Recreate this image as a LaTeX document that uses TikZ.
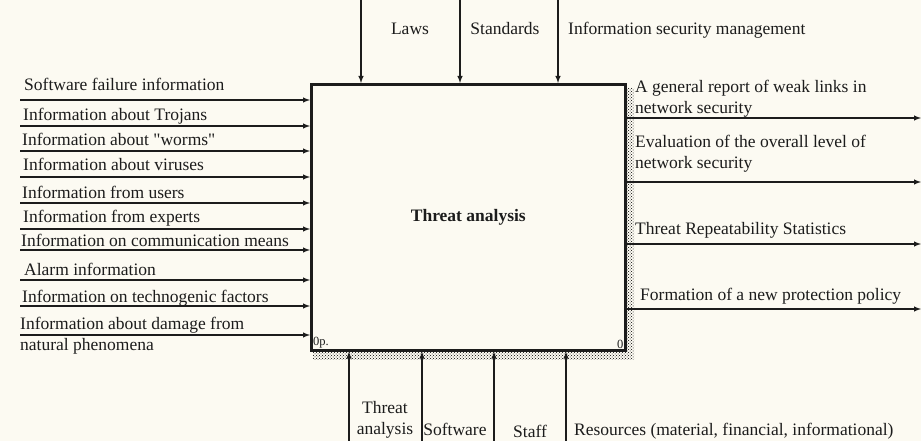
\documentclass[tikz,border=0pt]{standalone}
\usepackage{fontspec}
\setmainfont{Liberation Serif}
\usepackage{xcolor}
\usetikzlibrary{arrows}
\usetikzlibrary{patterns}
\usetikzlibrary{positioning}
\definecolor{paper}{RGB}{252,250,242}
\definecolor{ink}{RGB}{28,28,28}

\begin{document}
\begin{tikzpicture}[x=1pt,y=-1pt,>=latex,
        arrow/.style={->,draw=ink,line width=1.4pt},
        lbl/.style={anchor=base west,inner sep=0pt,text=ink,font=\fontsize{17.5}{21}\selectfont},
        lbl2/.style={anchor=north west,inner sep=0pt,align=left,text=ink,font=\fontsize{17.5}{21}\selectfont},
        corner/.style={inner sep=3pt,text=ink,font=\fontsize{12.5}{13}\selectfont}]
        \useasboundingbox[fill=paper] (0,0) rectangle (921,441);
        % shadow of the activity box
        \fill[pattern=crosshatch dots,pattern color=black] (313,88) rectangle (634,359);
        \node[draw=ink,line width=2.6pt,fill=paper,minimum width=314pt,minimum height=266pt,
              anchor=north west,inner sep=0pt,text=ink,
              font=\bfseries\fontsize{17.5}{21}\selectfont] (ta) at (310,83) {Threat analysis};
        \node[corner,anchor=south west] (num) at (ta.south west) {0p.};
        \node[corner,anchor=south east] (pg) at (ta.south east) {0};
        % controls
        \coordinate (c1) at (361,0);
        \coordinate (c2) at (460,0);
        \coordinate (c3) at (558,0);
        \draw[arrow] (c1) -- (c1 |- ta.north);
        \draw[arrow] (c2) -- (c2 |- ta.north);
        \draw[arrow] (c3) -- (c3 |- ta.north);
        \node[lbl,anchor=base] (laws) at (410,35) {Laws};
        \node[lbl,anchor=base] (std) at (505,35) {Standards};
        \node[lbl] (ism) at (568,35) {Information security management};
        % inputs
        \coordinate (i1) at (20,100);
        \coordinate (i2) at (20,126);
        \coordinate (i3) at (20,151);
        \coordinate (i4) at (20,177);
        \coordinate (i5) at (20,203);
        \coordinate (i6) at (20,229);
        \coordinate (i7) at (20,250);
        \coordinate (i8) at (20,280);
        \coordinate (i9) at (20,306);
        \coordinate (i10) at (20,335);
        \draw[arrow] (i1) -- (i1 -| ta.west);
        \draw[arrow] (i2) -- (i2 -| ta.west);
        \draw[arrow] (i3) -- (i3 -| ta.west);
        \draw[arrow] (i4) -- (i4 -| ta.west);
        \draw[arrow] (i5) -- (i5 -| ta.west);
        \draw[arrow] (i6) -- (i6 -| ta.west);
        \draw[arrow] (i7) -- (i7 -| ta.west);
        \draw[arrow] (i8) -- (i8 -| ta.west);
        \draw[arrow] (i9) -- (i9 -| ta.west);
        \draw[arrow] (i10) -- (i10 -| ta.west);
        \node[lbl] (sfi) at (24,91) {Software failure information};
        \node[lbl] (tro) at (23,121) {Information about Trojans};
        \node[lbl] (wrm) at (22,146) {Information about \textquotedbl worms\textquotedbl};
        \node[lbl] (vir) at (23,171) {Information about viruses};
        \node[lbl] (usr) at (22,198) {Information from users};
        \node[lbl] (exp) at (23,222) {Information from experts};
        \node[lbl] (com) at (21,246) {Information on communication means};
        \node[lbl] (alm) at (24,275) {Alarm information};
        \node[lbl] (tec) at (22,302) {Information on technogenic factors};
        \node[lbl2] (nat) at (20,317) {Information about damage from\\natural phenomena};
        % outputs
        \coordinate (o1) at (921,118);
        \coordinate (o2) at (921,182);
        \coordinate (o3) at (921,244);
        \coordinate (o4) at (921,309);
        \draw[arrow] (ta.east |- o1) -- (o1);
        \draw[arrow] (ta.east |- o2) -- (o2);
        \draw[arrow] (ta.east |- o3) -- (o3);
        \draw[arrow] (ta.east |- o4) -- (o4);
        \node[lbl2] (weak) at (635,80) {A general report of weak links in\\network security};
        \node[lbl2] (eval) at (635,135) {Evaluation of the overall level of\\network security};
        \node[lbl] (stat) at (635,234) {Threat Repeatability Statistics};
        \node[lbl] (pol) at (640,300) {Formation of a new protection policy};
        % mechanisms
        \coordinate (m1) at (349,441);
        \coordinate (m2) at (422,441);
        \coordinate (m3) at (494,441);
        \coordinate (m4) at (566,441);
        \draw[arrow] (m1) -- (m1 |- ta.south);
        \draw[arrow] (m2) -- (m2 |- ta.south);
        \draw[arrow] (m3) -- (m3 |- ta.south);
        \draw[arrow] (m4) -- (m4 |- ta.south);
        \node[lbl2,anchor=north,align=center] (tha) at (385,401) {Threat\\analysis};
        \node[lbl,anchor=base] (sw) at (455,435) {Software};
        \node[lbl,anchor=base] (stf) at (530,437) {Staff};
        \node[lbl] (res) at (574,435) {Resources (material, financial, informational)};
      \end{tikzpicture}
\end{document}
